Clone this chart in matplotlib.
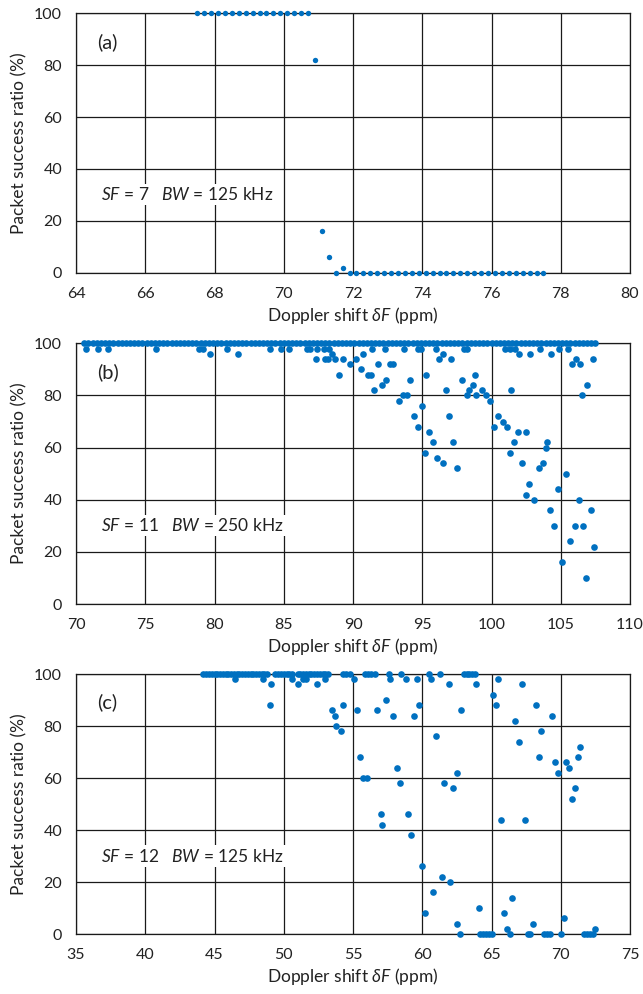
import matplotlib
matplotlib.use("Agg")
import matplotlib.pyplot as plt

plt.rcParams['font.family'] = ['Lato', 'DejaVu Sans']
plt.rcParams['mathtext.fontset'] = 'custom'
plt.rcParams['mathtext.rm'] = 'Lato'
plt.rcParams['mathtext.it'] = 'Lato:italic'
plt.rcParams['mathtext.fallback'] = 'cm'

# ---------------- Panel (a): SF=7, BW=125 kHz ----------------
a_x = [67.5, 67.7, 67.9, 68.1, 68.3, 68.5, 68.7, 68.9, 69.1, 69.3, 69.5, 69.7,
       69.9, 70.1, 70.3, 70.5, 70.7, 70.9, 71.1, 71.3, 71.5, 71.7, 71.9, 72.1,
       72.3, 72.5, 72.7, 72.9, 73.1, 73.3, 73.5, 73.7, 73.9, 74.1, 74.3, 74.5,
       74.7, 74.9, 75.1, 75.3, 75.5, 75.7, 75.9, 76.1, 76.3, 76.5, 76.7, 76.9,
       77.1, 77.3, 77.5]
a_y = [100, 100, 100, 100, 100, 100, 100, 100, 100, 100, 100, 100,
       100, 100, 100, 100, 100, 82, 16, 6, 0, 2, 0, 0,
       0, 0, 0, 0, 0, 0, 0, 0, 0, 0, 0, 0,
       0, 0, 0, 0, 0, 0, 0, 0, 0, 0, 0, 0,
       0, 0, 0]

# ---------------- Panel (b): SF=11, BW=250 kHz ----------------
b_top_x = [70.6, 70.9, 71.2, 71.5, 71.8, 72.1, 72.4, 72.7, 73.0, 73.3, 73.6, 73.9,
           74.2, 74.5, 74.8, 75.1, 75.4, 75.7, 76.0, 76.3, 76.6, 76.9, 77.2, 77.5,
           77.8, 78.1, 78.4, 78.7, 79.0, 79.3, 79.6, 79.9, 80.2, 80.5, 80.8, 81.1,
           81.4, 81.7, 82.0, 82.3, 82.6, 82.9, 83.2, 83.5, 83.8, 84.1, 84.4, 84.7,
           85.0, 85.3, 85.6, 85.9, 86.2, 86.5, 86.8, 87.1, 87.4, 87.7, 88.0, 88.3,
           88.6, 88.9, 89.2, 89.5, 89.8, 90.1, 90.4, 90.7, 91.0, 91.3, 91.6, 91.9,
           92.2, 92.5, 92.8, 93.1, 93.4, 93.7, 94.0, 94.3, 94.6, 94.9, 95.2, 95.5,
           95.8, 96.1, 96.4, 96.7, 97.0, 97.3, 97.6, 97.9, 98.2, 98.5, 98.8, 99.1,
           99.4, 99.7, 100.0, 100.3, 100.6, 100.9, 101.2, 101.5, 101.8, 102.1, 102.4,
           102.7, 103.0, 103.3, 103.6, 103.9, 104.2, 104.5, 104.8, 105.1, 105.4,
           105.7, 106.0, 106.3, 106.6, 106.9, 107.2, 107.5]
b_top_y = [100] * len(b_top_x)

b_x = [70.7, 71.6, 72.3, 75.8, 78.9, 79.2, 79.7, 80.9, 81.7, 84.0, 84.8, 85.4,
       86.7, 86.9, 87.3, 87.4, 87.9, 88.0, 88.3, 88.2, 88.5, 88.7, 89.0, 89.3,
       89.8, 90.2, 90.7, 90.6, 91.1, 91.3, 91.4, 91.5, 91.8, 92.1, 92.3, 92.4,
       92.7, 92.9, 93.3, 93.6, 93.9, 93.7, 94.1, 94.4, 94.7, 94.7, 94.9, 95.0,
       95.3, 95.2, 95.5, 95.8, 96.0, 96.1, 96.2, 96.5, 96.5, 96.7, 96.9, 97.1,
       97.2, 97.5, 97.9, 98.0, 98.2, 98.2, 98.4, 98.7, 98.8, 98.9, 99.3, 99.6,
       99.9, 100.2, 100.5, 100.8, 101.0, 101.1, 101.3, 101.3, 101.4, 101.6, 101.7,
       101.9, 102.0, 102.2, 102.5, 102.5, 102.7, 102.8, 103.1, 103.4, 103.5, 103.7,
       103.9, 104.0, 104.2, 104.3, 104.5, 104.8, 104.9, 105.1, 105.4, 105.5, 105.7,
       105.8, 106.0, 106.1, 106.3, 106.4, 106.5, 106.6, 106.8, 106.9, 107.2, 107.3,
       107.4]
b_y = [98, 98, 98, 98, 98, 98, 96, 98, 96, 98, 98, 98,
       98, 98, 94, 98, 98, 94, 98, 94, 96, 94, 88, 94,
       92, 94, 96, 90, 88, 88, 98, 82, 92, 84, 98, 86,
       92, 92, 78, 80, 80, 98, 86, 72, 98, 68, 98, 76,
       88, 58, 66, 62, 98, 56, 94, 96, 54, 82, 72, 94,
       62, 52, 86, 98, 98, 80, 82, 84, 88, 80, 82, 80,
       78, 68, 72, 70, 98, 68, 98, 58, 82, 62, 98,
       66, 96, 54, 66, 42, 46, 96, 40, 52, 98, 54,
       60, 62, 36, 96, 30, 44, 98, 16, 50, 98, 24,
       92, 30, 94, 40, 92, 80, 30, 10, 84, 36, 94,
       22]

# ---------------- Panel (c): SF=12, BW=125 kHz ----------------
c_top_x = [44.2, 44.4, 44.6, 44.8, 45.0, 45.2, 45.4, 45.6, 45.8, 46.0, 46.2, 46.4,
           46.6, 46.8, 47.0, 47.2, 47.4, 47.6, 47.8, 48.0, 48.2, 48.4, 48.6, 48.8,
           49.4, 49.6, 49.8, 50.0, 50.2, 50.4, 50.6, 51.0, 51.2, 51.4, 51.6, 51.8,
           52.0, 52.2, 52.4, 52.6, 52.8, 53.0, 53.2, 54.3, 54.5, 54.8, 55.9, 56.1,
           56.3, 56.6, 57.6, 58.5, 60.5, 61.25, 63.0, 63.2, 63.4, 63.6, 63.8]
c_top_y = [100] * len(c_top_x)

c_x = [46.5, 48.5, 49.1, 49.0, 50.6, 51.0, 51.4, 51.6, 52.4, 53.0, 53.5, 53.7,
       53.8, 54.1, 54.3, 55.1, 55.3, 55.5, 55.7, 56.0, 56.7, 57.4, 57.0, 57.1,
       57.7, 57.9, 58.2, 58.4, 58.8, 59.0, 59.2, 59.4, 59.6, 59.8, 60.0, 60.2,
       60.6, 60.8, 61.0, 61.4, 61.6, 61.9, 62.0, 62.2, 62.5, 62.5, 62.7, 62.8,
       63.9, 64.1, 64.2, 64.4, 64.6, 64.8, 65.0, 65.1, 65.3, 65.5, 65.7, 65.9,
       66.1, 66.3, 66.5, 66.7, 67.0, 67.2, 67.4, 67.6, 67.8, 68.0, 68.2, 68.4,
       68.6, 68.8, 69.0, 69.2, 69.4, 69.6, 69.8, 70.0, 70.2, 70.4, 70.6, 70.8,
       71.0, 71.25, 71.4, 71.7, 71.9, 72.1, 72.3, 72.5]
c_y = [98, 98, 96, 88, 98, 96, 98, 98, 96, 98, 86, 84,
       80, 78, 88, 98, 86, 68, 60, 60, 86, 90, 46, 42,
       98, 84, 64, 58, 98, 46, 38, 84, 98, 88, 26, 8,
       98, 16, 76, 22, 58, 96, 20, 56, 62, 4, 0, 86,
       96, 10, 0, 0, 0, 0, 0, 92, 88, 98, 44, 8,
       2, 0, 14, 82, 74, 96, 44, 0, 0, 4, 88, 68,
       78, 0, 0, 0, 84, 66, 62, 0, 6, 66, 64, 52,
       56, 68, 72, 0, 0, 0, 0, 2]

panels = [
    dict(label='(a)', params=r'$\mathit{SF}$ = 7   $\mathit{BW}$ = 125 kHz',
         xlim=(64, 80), xticks=[64, 66, 68, 70, 72, 74, 76, 78, 80],
         series=[(a_x, a_y)], size=15,
         pos=[76 / 643, 1 - 272.7 / 994, 554 / 643, 259.4 / 994]),
    dict(label='(b)', params=r'$\mathit{SF}$ = 11   $\mathit{BW}$ = 250 kHz',
         xlim=(70, 110), xticks=[70, 75, 80, 85, 90, 95, 100, 105, 110],
         series=[(b_top_x, b_top_y), (b_x, b_y)], size=23,
         pos=[76 / 643, 1 - 604 / 994, 554 / 643, 260.7 / 994]),
    dict(label='(c)', params=r'$\mathit{SF}$ = 12   $\mathit{BW}$ = 125 kHz',
         xlim=(35, 75), xticks=[35, 40, 45, 50, 55, 60, 65, 70, 75],
         series=[(c_top_x, c_top_y), (c_x, c_y)], size=23,
         pos=[76 / 643, 1 - 934 / 994, 554 / 643, 260 / 994]),
]

yticks = [0, 20, 40, 60, 80, 100]
dot_color = '#0070C0'
line_color = '#1a1a1a'

fig = plt.figure(figsize=(6.43, 9.94), dpi=100)
for p in panels:
    ax = fig.add_axes(p['pos'])
    ax.set_xlim(*p['xlim'])
    ax.set_ylim(0, 100)
    ax.set_xticks(p['xticks'])
    ax.set_yticks(yticks)
    ax.grid(True, color=line_color, linewidth=0.9)
    ax.set_axisbelow(True)
    for s in ax.spines.values():
        s.set_color(line_color)
        s.set_linewidth(0.9)
    ax.tick_params(length=0, labelsize=11.5, pad=10, colors='#222222')
    for xs, ys in p['series']:
        ax.scatter(xs, ys, s=p['size'], color=dot_color, linewidths=0,
                   zorder=3, clip_on=False)
    ax.set_ylabel('Packet success ratio (%)', fontsize=12.5, labelpad=5,
                  color='#222222')
    ax.set_xlabel(r'Doppler shift $\mathit{\delta F}$ (ppm)', fontsize=12.5,
                  labelpad=3, color='#222222')
    ax.text(0.057, 0.89, p['label'], transform=ax.transAxes, fontsize=14.5,
            ha='center', va='center', color='#222222')
    ax.text(0.045, 0.30, p['params'], transform=ax.transAxes, fontsize=12.5,
            ha='left', va='center', color='#222222',
            bbox=dict(facecolor='white', edgecolor='none', pad=1.5))

fig.savefig('out.png', dpi=100)
